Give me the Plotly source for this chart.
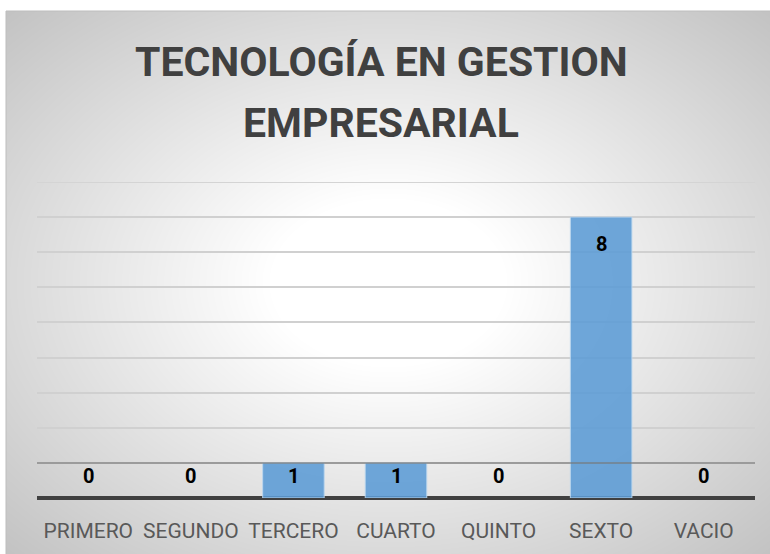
import base64, struct, zlib
import numpy as np
import plotly.graph_objects as go

# ---- data ----
categories = ["PRIMERO", "SEGUNDO", "TERCERO", "CUARTO", "QUINTO", "SEXTO", "VACIO"]
values = [0, 0, 1, 1, 0, 8, 0]
title_lines = ["TECNOLOGÍA EN GESTION", "EMPRESARIAL"]

# ---- layout geometry (pixels) ----
W, H = 770, 554
ML, MR, MT, MB = 37, 15, 182, 56
PW, PH = W - ML - MR, H - MT - MB
CH_X0, CH_Y0 = 6, 11  # chart frame top-left


def to_px(px):
    return (px - ML) / PW


def to_py(py):
    return (H - MB - py) / PH


# ---- radial gradient background as PNG ----
def make_png(arr):
    h, w = arr.shape
    raw = b"".join(b"\x00" + arr[i].tobytes() for i in range(h))

    def chunk(tag, data):
        return (struct.pack(">I", len(data)) + tag + data +
                struct.pack(">I", zlib.crc32(tag + data) & 0xFFFFFFFF))

    return (b"\x89PNG\r\n\x1a\n" +
            chunk(b"IHDR", struct.pack(">IIBBBBB", w, h, 8, 0, 0, 0, 0)) +
            chunk(b"IDAT", zlib.compress(raw, 9)) +
            chunk(b"IEND", b""))


gw, gh = W - CH_X0, H - CH_Y0
yy, xx = np.mgrid[0:gh, 0:gw]
d = np.sqrt(((xx - gw / 2) / (gw / 2)) ** 2 + ((yy - gh / 2) / (gh / 2)) ** 2) / np.sqrt(2)
t = np.clip((d - 0.22) / (1.0 - 0.22), 0, 1)
grad = (255 - 60 * t).astype(np.uint8)
img_src = "data:image/png;base64," + base64.b64encode(make_png(grad)).decode()

fig = go.Figure()
fig.add_trace(go.Bar(
    x=categories, y=values,
    marker=dict(color="rgba(91,155,213,0.88)",
                line=dict(color="rgba(189,215,238,0.9)",
                          width=[0 if v == 0 else 1 for v in values])),
    hoverinfo="skip",
))

# data labels
for c, v in zip(categories, values):
    fig.add_annotation(
        x=c, y=max(v - 0.76, 0.63), xref="x", yref="y",
        text=f"<b>{v}</b>", showarrow=False, yanchor="middle",
        font=dict(family="Roboto", size=20, color="#000000"),
    )

# title (two lines)
for line_text, py in zip(title_lines, [62, 123]):
    fig.add_annotation(
        x=to_px(381), y=to_py(py), xref="paper", yref="paper",
        text=f"<b>{line_text}</b>", showarrow=False,
        xanchor="center", yanchor="middle",
        font=dict(family="Roboto", size=41, color="#404040"),
    )

fig.add_layout_image(dict(
    source=img_src, xref="paper", yref="paper",
    x=to_px(CH_X0), y=to_py(CH_Y0),
    sizex=to_px(W) - to_px(CH_X0), sizey=to_py(CH_Y0) - to_py(H),
    xanchor="left", yanchor="top", sizing="stretch", layer="below",
))

# chart frame
fig.add_shape(type="rect", xref="paper", yref="paper",
              x0=to_px(CH_X0), x1=to_px(W + 5), y0=to_py(H + 5), y1=to_py(CH_Y0),
              line=dict(color="#bdbdbd", width=1), layer="above")

# darker first gridline and top gridline
fig.add_shape(type="line", xref="paper", yref="y", x0=0, x1=1, y0=1, y1=1,
              line=dict(color="rgba(120,120,120,0.6)", width=2), layer="above")
fig.add_shape(type="line", xref="paper", yref="y", x0=0, x1=1, y0=9, y1=9,
              line=dict(color="#d4d4d4", width=2), layer="below")

fig.update_layout(
    width=W, height=H,
    margin=dict(l=ML, r=MR, t=MT, b=MB),
    paper_bgcolor="white", plot_bgcolor="rgba(0,0,0,0)",
    bargap=0.4, showlegend=False,
    xaxis=dict(showgrid=False, showline=False, ticks="outside", ticklen=14,
               tickcolor="rgba(0,0,0,0)",
               tickfont=dict(family="Roboto", size=21, color="#595959")),
    yaxis=dict(range=[0, 9], dtick=1, showticklabels=False, showgrid=True,
               gridcolor="#d0d0d0", gridwidth=2,
               zeroline=True, zerolinecolor="#404040", zerolinewidth=4,
               fixedrange=True),
)

fig.write_html("out.html", config={"displayModeBar": False},
               post_script="document.body.style.margin='0';document.body.style.overflow='hidden';")
